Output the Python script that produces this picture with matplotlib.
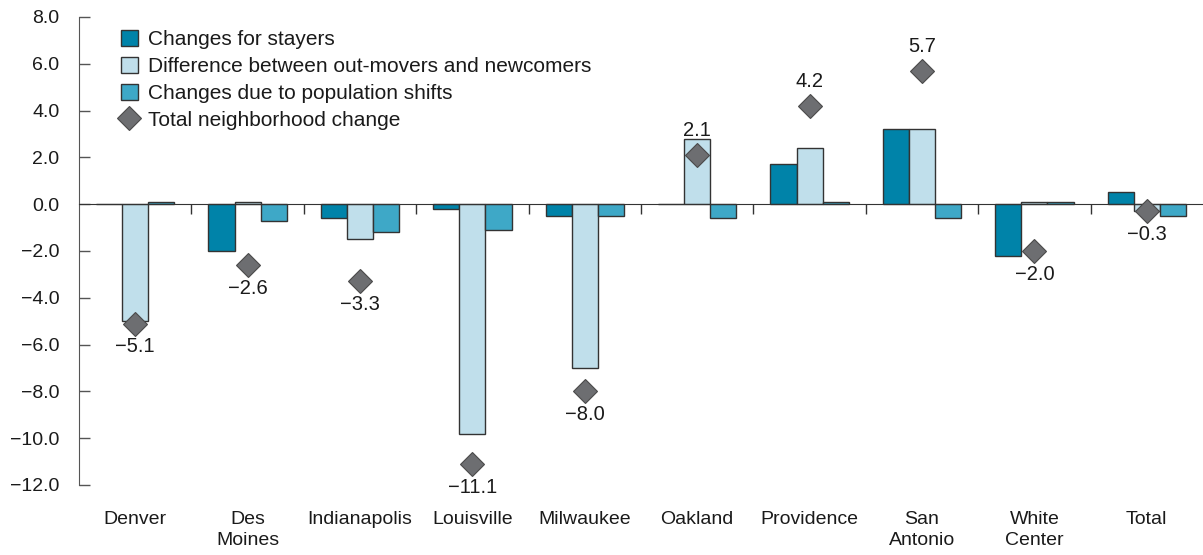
import matplotlib
matplotlib.use("Agg")
import matplotlib.pyplot as plt
from matplotlib.patches import Patch
from matplotlib.lines import Line2D
import numpy as np

plt.rcParams['font.family'] = ['Liberation Sans', 'DejaVu Sans']

categories = ["Denver", "Des\nMoines", "Indianapolis", "Louisville", "Milwaukee",
              "Oakland", "Providence", "San\nAntonio", "White\nCenter", "Total"]
stayers = [0.0, -2.0, -0.6, -0.2, -0.5, 0.0, 1.7, 3.2, -2.2, 0.5]
movers_diff = [-5.0, 0.1, -1.5, -9.8, -7.0, 2.8, 2.4, 3.2, 0.1, -0.3]
pop_shifts = [0.1, -0.7, -1.2, -1.1, -0.5, -0.6, 0.1, -0.6, 0.1, -0.5]
total_change = [-5.1, -2.6, -3.3, -11.1, -8.0, 2.1, 4.2, 5.7, -2.0, -0.3]
series_names = ["Changes for stayers", "Difference between out-movers and newcomers",
                "Changes due to population shifts", "Total neighborhood change"]
yticks = [-12, -10, -8, -6, -4, -2, 0, 2, 4, 6, 8]

c_stay = "#0083A9"
c_diff = "#C0DFEB"
c_pop = "#3EA8C7"
c_dia = "#6D6E71"
edge = "#333333"
txtc = "#1a1a1a"
fs = 14

W, H = 1203, 555
fig = plt.figure(figsize=(W / 100, H / 100), dpi=100)
ax = fig.add_axes([79 / W, 1 - 485 / H, 1 - 79 / W, (485 - 17) / H])

x = np.arange(len(categories))
bw = 0.233
ax.bar(x - bw, stayers, bw, color=c_stay, edgecolor=edge, linewidth=1.0, zorder=2)
ax.bar(x, movers_diff, bw, color=c_diff, edgecolor=edge, linewidth=1.0, zorder=2)
ax.bar(x + bw, pop_shifts, bw, color=c_pop, edgecolor=edge, linewidth=1.0, zorder=2)
ax.plot(x, total_change, linestyle='none', marker='D', markersize=12,
        markerfacecolor=c_dia, markeredgecolor="#4a4a4a", markeredgewidth=0.8, zorder=4)

for xi, v in zip(x, total_change):
    txt = f"{v:.1f}".replace("-", "\u2212")
    if v < 0:
        ax.annotate(txt, (xi, v), xytext=(0, -10), textcoords='offset points',
                    ha='center', va='top', fontsize=14.5, color=txtc, zorder=5)
    else:
        ax.annotate(txt, (xi, v), xytext=(0, 11), textcoords='offset points',
                    ha='center', va='bottom', fontsize=14.5, color=txtc, zorder=5)

ax.set_xlim(-0.5, len(categories) - 0.5)
ax.set_ylim(-12, 8)
ax.set_yticks(yticks)
ax.set_yticklabels([f"{t:.1f}".replace("-", "\u2212") for t in yticks], fontsize=fs, color=txtc)
ax.tick_params(axis='y', direction='in', length=8, width=1, color="#555555", pad=14)

for s in ['top', 'right']:
    ax.spines[s].set_visible(False)
ax.spines['left'].set_color("#555555")
ax.spines['bottom'].set_position(('data', 0))
ax.spines['bottom'].set_color("#333333")
ax.spines['bottom'].set_zorder(3)
ax.set_xticks(x[:-1] + 0.5)
ax.set_xticklabels([])
ax.tick_params(axis='x', direction='out', length=7, width=1, color="#333333")

for xi, name in zip(x, categories):
    ax.text(xi, -(511 - 485) / (485 - 17), name, transform=ax.get_xaxis_transform(),
            ha='center', va='top', fontsize=fs, color=txtc, linespacing=1.3)

handles = [Patch(facecolor=c_stay, edgecolor=edge, linewidth=1.0),
           Patch(facecolor=c_diff, edgecolor=edge, linewidth=1.0),
           Patch(facecolor=c_pop, edgecolor=edge, linewidth=1.0),
           Line2D([], [], linestyle='none', marker='D', markersize=12,
                  markerfacecolor=c_dia, markeredgecolor="#4a4a4a", markeredgewidth=0.8)]
leg = fig.legend(handles, series_names, loc='upper left', bbox_to_anchor=(121 / W, 1 - 30 / H),
                 frameon=False, fontsize=15, handlelength=0.8, handleheight=0.8,
                 handletextpad=0.5, labelspacing=0.37, borderaxespad=0, borderpad=0)
for t in leg.get_texts():
    t.set_color(txtc)

fig.savefig("out.png", dpi=100)
